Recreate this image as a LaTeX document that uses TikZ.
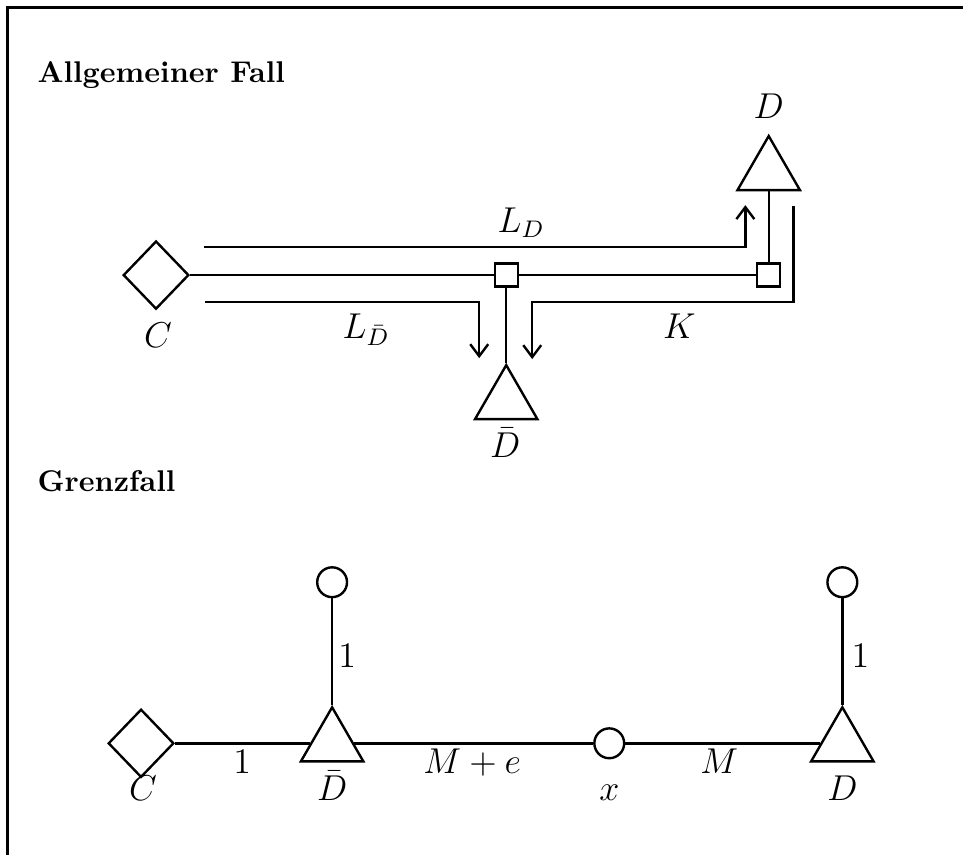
\documentclass[tikz,border=0pt]{standalone}
\usepackage{amsmath}
\usepackage{tikz}
\usetikzlibrary{shapes.geometric, arrows.meta, positioning}
\tikzset{
  sourcenode/.style={diamond, draw, minimum width=0.77cm, minimum height=0.8cm,
    inner sep=0pt, line width=0.8pt},
  junc/.style={rectangle, draw, minimum size=0.27cm, inner sep=0pt, line width=0.8pt},
  sinknode/.style={regular polygon, regular polygon sides=3, draw,
    minimum size=0.845cm, inner sep=0pt, line width=0.8pt},
  pnode/.style={circle, draw, minimum size=0.35cm, inner sep=0pt, line width=0.8pt},
  arrow/.style={-{Straight Barb[length=4pt,width=6pt]}, line width=0.8pt},
  line/.style={line width=0.8pt},
  lbl/.style={anchor=base, inner sep=0pt, font=\fontsize{11.5}{14}\selectfont},
  title/.style={anchor=base west, inner sep=0pt, font=\bfseries}
}
\begin{document}
\begin{tikzpicture}
  \useasboundingbox (0,0) rectangle (11.30,-10.03);
  % open frame
  \draw[line width=1pt] (0.088,-10.03) -- (0.088,-0.088) -- (11.30,-0.088);

  \node[title] (t1) at (0.434,-0.974) {Allgemeiner Fall};
  \node[title] (t2) at (0.434,-5.764) {Grenzfall};

  % general case
  \node[sourcenode] (C1) at (1.831,-3.228) {};
  \node[junc] (J1) at (5.94,-3.228) {};
  \node[junc] (J2) at (9.02,-3.228) {};
  \node[sinknode] (Db1) at (5.94,-4.707) {};
  \node[sinknode] (D1) at (9.02,-2.019) {};
  \draw[line] (C1) -- (J1) -- (J2);
  \draw[line] (J1) -- (Db1.corner 1);
  \draw[line] (J2) -- (D1.side 2);

  % flows along the lines
  \coordinate (ld0) at (2.395,-2.900);
  \coordinate (ld1) at (8.746,-2.407);
  \draw[arrow] (ld0) -| (ld1);
  \coordinate (lb0) at (2.407,-3.545);
  \coordinate (lb1) at (5.623,-4.203);
  \draw[arrow] (lb0) -| (lb1);
  \coordinate (k0) at (9.309,-2.418);
  \coordinate (k1) at (9.309,-3.545);
  \coordinate (k2) at (6.245,-4.214);
  \draw[arrow] (k0) -- (k1) -| (k2);

  \node[lbl] (LD) at (6.116,-2.723) {$L_D$};
  \node[lbl] (LDb) at (4.296,-3.968) {$L_{\bar D}$};
  \node[lbl] (Kl) at (7.971,-3.968) {$K$};
  \node[lbl] (C1l) at (1.855,-4.073) {$C$};
  \node[lbl] (Db1l) at (5.928,-5.365) {$\bar D$};
  \node[lbl] (D1l) at (9.02,-1.385) {$D$};

  % limit case
  \node[sourcenode] (C2) at (1.655,-8.722) {};
  \node[sinknode] (Db2) at (3.897,-8.722) {};
  \node[pnode] (x2) at (7.149,-8.722) {};
  \node[sinknode] (D2) at (9.884,-8.722) {};
  \node[pnode] (o1) at (3.897,-6.832) {};
  \node[pnode] (o2) at (9.884,-6.832) {};
  \draw[line] (C2) -- (Db2) -- (x2) -- (D2);
  \draw[line] (Db2.corner 1) -- (o1);
  \draw[line] (D2.corner 1) -- (o2);

  \node[lbl] (w1) at (2.841,-9.074) {$1$};
  \node[lbl] (w2) at (5.541,-9.074) {$M+e$};
  \node[lbl] (w3) at (8.440,-9.074) {$M$};
  \node[lbl] (w4) at (4.073,-7.830) {$1$};
  \node[lbl] (w5) at (10.096,-7.830) {$1$};
  \node[lbl] (C2l) at (1.679,-9.39) {$C$};
  \node[lbl] (Db2l) at (3.897,-9.39) {$\bar D$};
  \node[lbl] (x2l) at (7.149,-9.39) {$x$};
  \node[lbl] (D2l) at (9.884,-9.39) {$D$};
\end{tikzpicture}
\end{document}
